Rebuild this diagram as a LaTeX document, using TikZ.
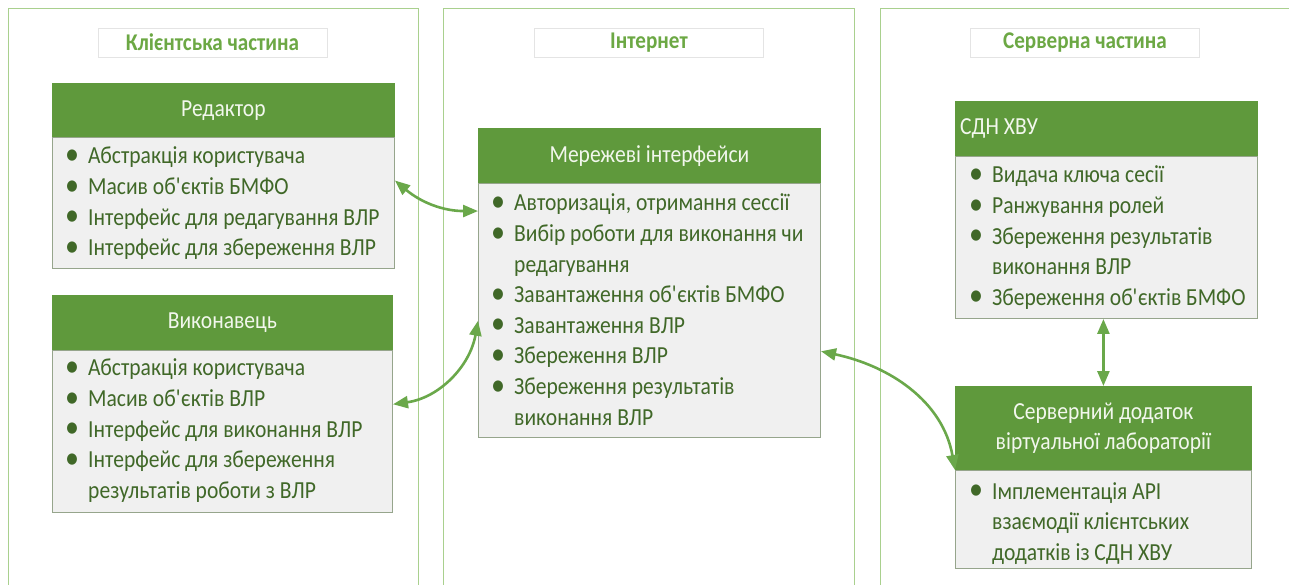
\documentclass[tikz,border=0pt]{standalone}
\usepackage{fontspec}
\usepackage{graphicx}
\setmainfont{Carlito}[FakeStretch=0.88, Ligatures=TeXOff]
\usetikzlibrary{arrows.meta,calc}
\definecolor{hdr}{RGB}{95,153,60}
\definecolor{bodyfill}{RGB}{240,240,240}
\definecolor{bodyline}{RGB}{150,165,140}
\definecolor{panelline}{RGB}{169,208,142}
\definecolor{titleline}{RGB}{228,228,228}
\definecolor{titletext}{RGB}{108,168,68}
\definecolor{bodytext}{RGB}{64,104,40}
\definecolor{hdrtext}{RGB}{242,247,237}
\definecolor{arrowc}{RGB}{106,168,74}
\newcommand{\bu}{\makebox[24pt][l]{\hspace{1pt}\raisebox{-0.5pt}{\scalebox{1.3}{\textbullet}}}}
\newcommand{\ap}{\textquotesingle}
\newcommand{\listfont}{\fontsize{24.5}{30.6}\selectfont}
\tikzset{
  panel/.style={draw=panelline, line width=1.2pt, fill=none, inner sep=0pt, anchor=north west},
  titlebox/.style={draw=titleline, line width=0.8pt, fill=white, inner sep=0pt, minimum width=229pt, minimum height=29pt, text=titletext, font=\fontsize{24}{28}\selectfont\bfseries},
  hdrbox/.style={draw=hdr, fill=hdr, line width=0.8pt, inner sep=0pt, anchor=north west, text=hdrtext, font=\listfont, align=center},
  hdrlabel/.style={inner sep=0pt, anchor=west, text=hdrtext, font=\listfont},
  bodybox/.style={draw=bodyline, fill=bodyfill, line width=1pt, inner sep=0pt, anchor=north west},
  listtext/.style={inner sep=0pt, anchor=base west, text=bodytext, font=\listfont},
  conn/.style={draw=arrowc, line width=2.6pt, {Triangle[length=15pt,width=12pt]}-{Triangle[length=15pt,width=12pt]}}
}
\begin{document}
\begin{tikzpicture}[x=1pt,y=1pt]
\useasboundingbox (0,0) rectangle (1289,584);
\clip (0,0) rectangle (1289,584);
\fill[white] (0,0) rectangle (1289,584);
% panels
\node[panel, minimum width=410pt, minimum height=600pt] (p1) at (8,576) {};
\node[panel, minimum width=411pt, minimum height=600pt] (p2) at (443,576) {};
\node[panel, minimum width=430pt, minimum height=600pt] (p3) at (880,576) {};
% titles
\node[titlebox] (t1) at (212.5,541.5) {Клієнтська частина};
\node[titlebox] (t2) at (649,541.5) {Інтернет};
\node[titlebox] (t3) at (1085,541.5) {Серверна частина};
% Редактор
\node[hdrbox, minimum width=342pt, minimum height=54pt] (rh) at (52,501) {Редактор};
\node[bodybox, minimum width=342pt, minimum height=131pt] (rb) at (52,447) {};
\node[listtext] (rl) at (64,420) {\begin{tabular}[t]{@{}l@{}l@{}}
\bu & Абстракція користувача\\
\bu & Масив об\ap єктів БМФО\\
\bu & Інтерфейс для редагування ВЛР\\
\bu & Інтерфейс для збереження ВЛР
\end{tabular}};
% Виконавець
\node[hdrbox, minimum width=340pt, minimum height=55pt] (vh) at (52,289) {Виконавець};
\node[bodybox, minimum width=340pt, minimum height=162pt] (vb) at (52,234) {};
\node[listtext] (vl) at (64,208) {\begin{tabular}[t]{@{}l@{}l@{}}
\bu & Абстракція користувача\\
\bu & Масив об\ap єктів ВЛР\\
\bu & Інтерфейс для виконання ВЛР\\
\bu & Інтерфейс для збереження\\
 & результатів роботи з ВЛР
\end{tabular}};
% Мережеві інтерфейси
\node[hdrbox, minimum width=342pt, minimum height=55pt] (mh) at (478,456) {Мережеві інтерфейси};
\node[bodybox, minimum width=342pt, minimum height=254pt] (mb) at (478,401) {};
\node[listtext] (ml) at (490,373) {\begin{tabular}[t]{@{}l@{}l@{}}
\bu & Авторизація, отримання сессії\\
\bu & Вибір роботи для виконання чи\\
 & редагування\\
\bu & Завантаження об\ap єктів БМФО\\
\bu & Завантаження ВЛР\\
\bu & Збереження ВЛР\\
\bu & Збереження результатів\\
 & виконання ВЛР
\end{tabular}};
% СДН ХВУ
\node[hdrbox, minimum width=302pt, minimum height=55pt] (ch) at (955,483) {};
\node[hdrlabel] (chl) at ($(ch.west)+(5,0)$) {СДН ХВУ};
\node[bodybox, minimum width=302pt, minimum height=162pt] (cb) at (955,428) {};
\node[listtext] (cl) at (968,401) {\begin{tabular}[t]{@{}l@{}l@{}}
\bu & Видача ключа сесії\\
\bu & Ранжування ролей\\
\bu & Збереження результатів\\
 & виконання ВЛР\\
\bu & Збереження об\ap єктів БМФО
\end{tabular}};
% Серверний додаток
\node[hdrbox, minimum width=296pt, minimum height=84pt] (sh) at (955,198) {Серверний додаток\\віртуальної лабораторії};
\node[bodybox, minimum width=296pt, minimum height=98pt] (sb) at (955,114) {};
\node[listtext] (sl) at (968,85) {\begin{tabular}[t]{@{}l@{}l@{}}
\bu & Імплементація API\\
 & взаємодії клієнтських\\
 & додатків із СДН ХВУ
\end{tabular}};
% connectors
\draw[conn] ($(rb.north east)!0.33!(rb.south east)$) to[out=-40,in=180] ($(mb.north west)!0.11!(mb.south west)$);
\draw[conn] ($(vb.north east)!0.333!(vb.south east)$) to[out=8,in=-100] ($(mb.north west)!0.54!(mb.south west)$);
\draw[conn] ($(mb.north east)!0.66!(mb.south east)$) to[out=-12,in=100] (sb.north west);
\draw[conn] (sh.north |- cb.south) -- (sh.north);
\end{tikzpicture}
\end{document}
